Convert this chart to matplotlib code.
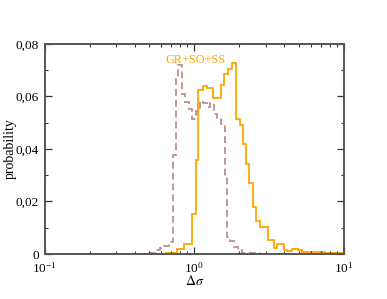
import matplotlib
matplotlib.use("Agg")
import matplotlib.pyplot as plt
from matplotlib.ticker import LogLocator, MultipleLocator, NullFormatter

plt.rcParams["font.family"] = ["Liberation Serif", "DejaVu Serif"]
plt.rcParams["mathtext.fontset"] = "stix"

# step histograms: bin edges (delta sigma) and probabilities
orange_edges = [0.648, 0.763, 0.858, 0.962, 1.0225, 1.064, 1.139, 1.211, 1.340,
                1.502, 1.580, 1.688, 1.779, 1.891, 2.005, 2.100, 2.199, 2.331,
                2.457, 2.585, 2.749, 3.122, 3.410, 3.587, 3.975, 4.182, 4.475,
                4.907, 5.267, 5.929, 7.468, 10.0]
orange_prob = [0.0005, 0.0018, 0.0037, 0.0152, 0.0358, 0.0625, 0.0640, 0.0631,
               0.0595, 0.0644, 0.0687, 0.0705, 0.0726, 0.0514, 0.0491, 0.0419,
               0.0343, 0.0269, 0.0180, 0.0126, 0.0102, 0.0053, 0.0024, 0.0037,
               0.0015, 0.0010, 0.0019, 0.0014, 0.0009, 0.0006, 0.0004]

pink_edges = [0.5064, 0.5468, 0.5904, 0.6310, 0.6783, 0.7245, 0.7517, 0.7825,
              0.8246, 0.8671, 0.9154, 0.9616, 1.0273, 1.0842, 1.1441, 1.2074,
              1.2742, 1.3443, 1.4186, 1.4969, 1.5922, 1.6422, 1.7330, 1.8287,
              1.9597, 2.0838, 2.749]
pink_prob = [0.0005, 0.0015, 0.0022, 0.0030, 0.0046, 0.0376, 0.0674, 0.0721,
             0.0610, 0.0579, 0.0552, 0.0514, 0.0545, 0.0583, 0.0575, 0.0560,
             0.0575, 0.0533, 0.0518, 0.0495, 0.0297, 0.0065, 0.0050, 0.0028,
             0.0015, 0.0005]

y_ticks = [0, 0.02, 0.04, 0.06, 0.08]
y_tick_labels = ["0", "0,02", "0,04", "0,06", "0,08"]
legend_label = "GR+SO+SS"

fig = plt.figure(figsize=(3.87, 2.99), dpi=100)
ax = fig.add_axes([0.115, 0.1505, 0.774, 0.7025])

ax.stairs(pink_prob, pink_edges, color="#bc8f8f", lw=1.3,
          linestyle=(0, (3.8, 2.2)))
ax.stairs(orange_prob, orange_edges, color="#ffa500", lw=1.3)

ax.set_xscale("log")
ax.set_xlim(0.1, 10)
ax.set_ylim(0, 0.08)
ax.xaxis.set_major_locator(LogLocator(base=10))
ax.xaxis.set_minor_locator(LogLocator(base=10, subs=range(2, 10)))
ax.xaxis.set_minor_formatter(NullFormatter())
ax.set_yticks(y_ticks)
ax.set_yticklabels(y_tick_labels)
ax.yaxis.set_minor_locator(MultipleLocator(0.01))

for s in ax.spines.values():
    s.set_color("#555555")
    s.set_linewidth(1.4)
ax.tick_params(which="both", direction="in", top=True, right=True,
               color="#333333", labelsize=9.5)
ax.tick_params(axis="x", pad=5)
ax.tick_params(axis="y", pad=4)
ax.tick_params(which="major", length=5, width=0.9)
ax.tick_params(which="minor", length=2.5, width=0.8)

ax.set_xlabel(r"$\Delta\sigma$", fontsize=10, labelpad=-1)
ax.set_ylabel("probability", fontsize=10, labelpad=-1)

ax.text(0.638, 0.0728, legend_label, color="#ffa500", fontsize=8.8,
        va="baseline")

fig.savefig("out.png", dpi=100)
